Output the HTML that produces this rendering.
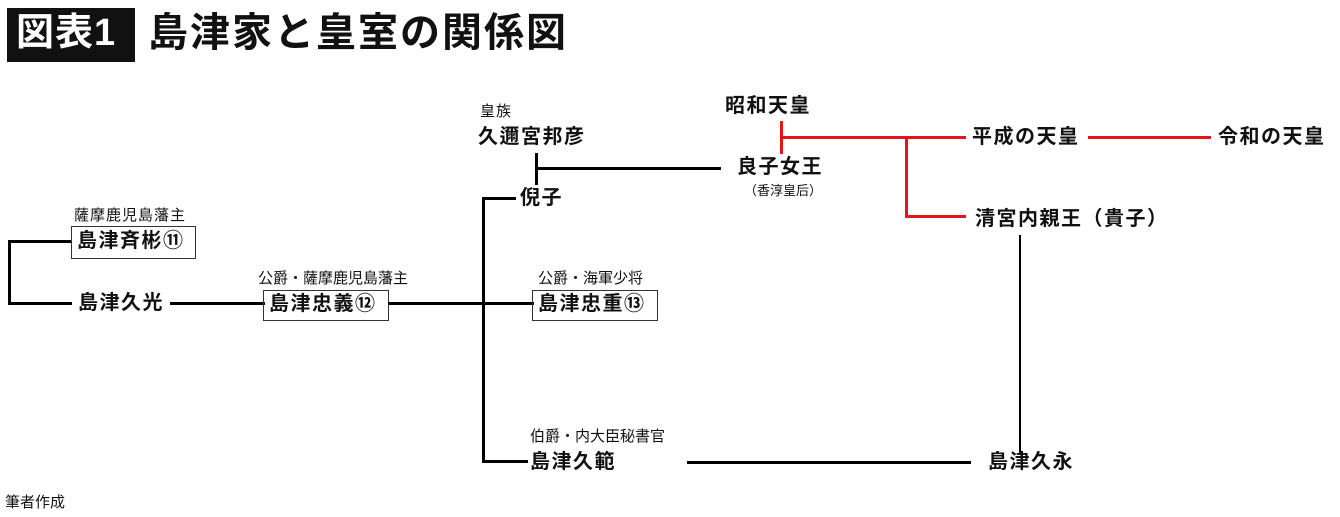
<!DOCTYPE html>
<html><head><meta charset="utf-8"><style>
html,body{margin:0;padding:0;background:#fff}
body{width:1340px;height:517px;position:relative;overflow:hidden;font-family:"Liberation Sans","Noto Sans CJK JP",sans-serif;color:#111}
.t{position:absolute;white-space:nowrap;line-height:1}
.n{font-size:20px;font-weight:bold;letter-spacing:1.5px}
.s{font-size:15px;letter-spacing:1px}
.l{position:absolute;background:#000}
.r{position:absolute;background:#e3151a}
.b{position:absolute;border:1.5px solid #333;box-sizing:border-box}
</style></head><body>
<div style="position:absolute;left:7px;top:8px;width:128px;height:54px;background:#111"></div>
<div class="t" style="left:16px;top:14px;font-size:38px;font-weight:bold;color:#fff;letter-spacing:1px">図表1</div>
<div class="t" style="left:148px;top:13px;font-size:40px;font-weight:bold;letter-spacing:2px">島津家と皇室の関係図</div>

<div class="l" style="left:8px;top:240px;width:3px;height:65px"></div>
<div class="l" style="left:8px;top:240px;width:64px;height:3px"></div>
<div class="l" style="left:8px;top:302px;width:64px;height:3px"></div>
<div class="t s" style="left:74px;top:208px">薩摩鹿児島藩主</div>
<div class="b" style="left:71px;top:226px;width:125px;height:33px"></div>
<div class="t n" style="left:77px;top:231px">島津斉彬⑪</div>
<div class="t n" style="left:78px;top:293px">島津久光</div>
<div class="l" style="left:170px;top:302px;width:95px;height:3px"></div>
<div class="t" style="left:258px;top:271px;font-size:15px">公爵・薩摩鹿児島藩主</div>
<div class="b" style="left:263px;top:290px;width:126px;height:31px"></div>
<div class="t n" style="left:269px;top:294px">島津忠義⑫</div>
<div class="l" style="left:388px;top:302px;width:146px;height:3px"></div>
<div class="l" style="left:482px;top:197px;width:3px;height:266px"></div>
<div class="l" style="left:482px;top:197px;width:34px;height:3px"></div>
<div class="t n" style="left:520px;top:188px">倪子</div>
<div class="t" style="left:538px;top:271px;font-size:15px">公爵・海軍少将</div>
<div class="b" style="left:532px;top:290px;width:126px;height:31px"></div>
<div class="t n" style="left:538px;top:294px">島津忠重⑬</div>
<div class="t s" style="left:480px;top:104px">皇族</div>
<div class="t n" style="left:478px;top:127px">久邇宮邦彦</div>
<div class="l" style="left:535px;top:153px;width:3px;height:32px"></div>
<div class="l" style="left:535px;top:167px;width:186px;height:3px"></div>
<div class="t n" style="left:737px;top:157px">良子女王</div>
<div class="t" style="left:744px;top:184px;font-size:13px">（香淳皇后）</div>
<div class="t n" style="left:725px;top:96px">昭和天皇</div>
<div class="r" style="left:780px;top:121px;width:3px;height:33px"></div>
<div class="r" style="left:780px;top:136px;width:186px;height:3px"></div>
<div class="t n" style="left:972px;top:127px">平成の天皇</div>
<div class="r" style="left:1088px;top:136px;width:123px;height:3px"></div>
<div class="t n" style="left:1218px;top:127px">令和の天皇</div>
<div class="r" style="left:905px;top:137px;width:3px;height:81px"></div>
<div class="r" style="left:905px;top:215px;width:61px;height:3px"></div>
<div class="t n" style="left:975px;top:209px">清宮内親王（貴子）</div>
<div class="l" style="left:1019px;top:235px;width:2px;height:220px"></div>
<div class="t n" style="left:988px;top:452px">島津久永</div>
<div class="l" style="left:687px;top:461px;width:284px;height:3px"></div>
<div class="t" style="left:530px;top:429px;font-size:15px">伯爵・内大臣秘書官</div>
<div class="l" style="left:482px;top:460px;width:46px;height:3px"></div>
<div class="t n" style="left:530px;top:452px">島津久範</div>
<div class="t" style="left:5px;top:495px;font-size:15px">筆者作成</div>
</body></html>
